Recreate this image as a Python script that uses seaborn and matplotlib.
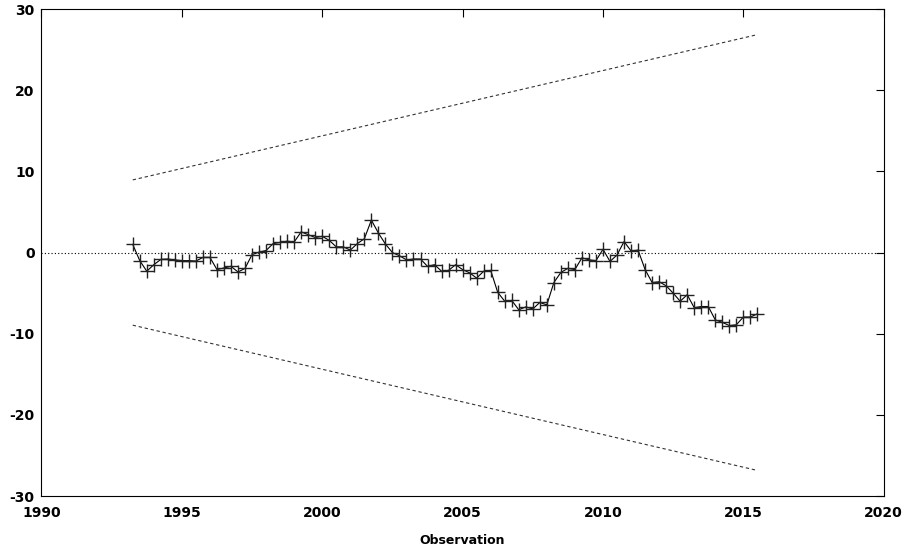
import numpy as np
import pandas as pd
import seaborn as sns
import matplotlib.pyplot as plt

# CUSUM values, quarterly from 1993:2 to 2015:3
start_year = 1993.25
cusum = [1.0, -1.0, -2.3, -1.5, -0.85, -0.8, -0.9, -1.0, -1.0, -1.05,
         -0.6, -0.6, -2.1, -1.9, -1.7, -2.4, -1.95, -0.25, 0.05, 0.25,
         1.1, 1.25, 1.4, 1.3, 2.55, 2.2, 1.85, 2.0, 1.5, 0.7,
         0.7, 0.3, 1.1, 1.7, 4.0, 2.4, 1.05, 0.0, -0.4, -0.9,
         -0.8, -0.8, -1.7, -1.5, -2.3, -2.2, -1.5, -2.1, -2.5, -3.15,
         -2.3, -2.2, -4.9, -6.0, -5.9, -7.05, -6.7, -6.95, -6.15, -6.45,
         -3.7, -2.45, -1.95, -2.1, -0.65, -0.9, -1.0, 0.4, -1.1, -0.3,
         1.35, 0.2, 0.3, -2.1, -3.7, -3.6, -4.1, -5.0, -6.0, -5.2,
         -6.8, -6.65, -6.65, -8.3, -8.6, -9.0, -8.9, -7.95, -7.95, -7.55]

# 95% band end values
band_start = 8.95
band_end = 26.85

obs = start_year + 0.25 * np.arange(len(cusum))
df = pd.DataFrame({"obs": obs, "cusum": cusum})
bands = pd.DataFrame({"obs": [obs[0], obs[-1]],
                      "upper": [band_start, band_end],
                      "lower": [-band_start, -band_end]})

sns.set_style("white")
plt.rcParams["axes.unicode_minus"] = False
plt.rcParams["text.color"] = "black"
plt.rcParams["xtick.color"] = "black"
plt.rcParams["ytick.color"] = "black"
plt.rcParams["axes.labelcolor"] = "black"

fig = plt.figure(figsize=(9.12, 5.49), dpi=100)
ax = fig.add_axes([0.0455, 0.0965, 0.9235, 0.887])

ax.axhline(0, color="black", lw=0.8, ls=(0, (1, 2)))
sns.lineplot(data=bands, x="obs", y="upper", ax=ax, color="#333333",
             lw=0.8, ls=(0, (3, 2.5)))
sns.lineplot(data=bands, x="obs", y="lower", ax=ax, color="#333333",
             lw=0.8, ls=(0, (3, 2.5)))
sns.lineplot(data=df, x="obs", y="cusum", ax=ax, color="black", lw=0.8,
             marker="+", markersize=10, markeredgewidth=1.0,
             markeredgecolor="#222222")

ax.set_xlim(1990, 2020)
ax.set_ylim(-30, 30)
ax.set_xticks(range(1990, 2021, 5))
ax.set_yticks(range(-30, 31, 10))
ax.tick_params(direction="in", top=True, right=True, length=6,
               width=0.8, labelsize=10)
ax.tick_params(axis="x", pad=7)
ax.tick_params(axis="y", pad=5)
for lab in ax.get_xticklabels() + ax.get_yticklabels():
    lab.set_fontweight("bold")
ax.set_xlabel("Observation", fontsize=9, fontweight="bold", labelpad=10)
ax.set_ylabel("")
for s in ax.spines.values():
    s.set_color("black")
    s.set_linewidth(0.8)

fig.savefig("out.png", dpi=100)
